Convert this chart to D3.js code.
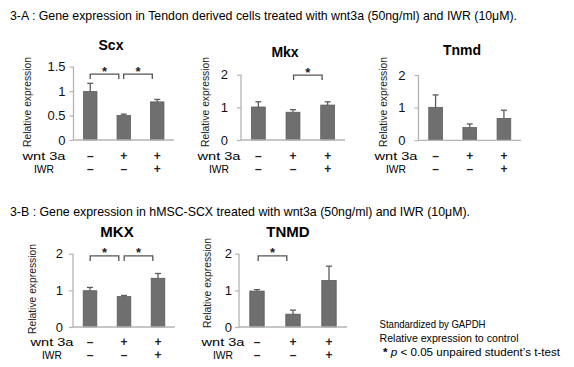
<!DOCTYPE html>
<html><head><meta charset="utf-8">
<script src="https://cdn.jsdelivr.net/npm/d3@7"></script>
<style>
html,body{margin:0;padding:0;background:#fff;}
svg{display:block;font-family:"Liberation Sans",Arial,sans-serif;}
</style></head>
<body><svg id="c" width="574" height="367"></svg>
<script>
// ---------------- DATA ----------------
const conditions = ["ctrl", "wnt3a", "wnt3a+IWR"];
const wntRow = ["\u2013", "+", "+"];
const iwrRow = ["\u2013", "\u2013", "+"];
const geneNames = ["Scx", "Mkx", "Tnmd", "MKX", "TNMD"];

const scxMean  = [0.99, 0.50, 0.78];
const scxErr   = [0.17, 0.03, 0.05];
const mkxMean  = [1.01, 0.85, 1.07];
const mkxErr   = [0.16, 0.08, 0.10];
const tnmdMean = [1.01, 0.39, 0.67];
const tnmdErr  = [0.38, 0.11, 0.25];
const hMKXMean = [0.99, 0.83, 1.33];
const hMKXErr  = [0.09, 0.03, 0.13];
const hTNMDMean = [0.98, 0.35, 1.27];
const hTNMDErr  = [0.04, 0.11, 0.39];

const scxTicks = [0, 0.5, 1, 1.5];
const scxTickLabels = ["0", "0.5", "1", "1.5"];
const stdTicks = [0, 1, 2];
const stdTickLabels = ["0", "1", "2"];

const scxSig  = [[0, 1], [1, 2]];
const mkxSig  = [[1, 2]];
const tnmdSig = [];
const hMKXSig = [[0, 1], [1, 2]];
const hTNMDSig = [[0, 1]];
const sigLevel = [1.35, 1.99, 0, 1.94, 1.94];

const titleA = "3-A : Gene expression in Tendon derived cells treated with wnt3a (50ng/ml) and IWR (10\u03bcM).";
const titleB = "3-B : Gene expression in hMSC-SCX treated with wnt3a (50ng/ml) and IWR (10\u03bcM).";
const yLabel = "Relative expression";
const noteLines = ["Standardized  by GAPDH", "Relative expression to control"];

// ---------------- LAYOUT ----------------
const layout = [
  {x0: 73.5, x1: 174, yb: 140, yt: 66.7, ymax: 1.5, ticks: scxTicks, tl: scxTickLabels, tx: 111, ty: 50, lx: 27, ly: 102, cx: 44, r1: 159.5, r2: 172.5, tp: 8},
  {x0: 241, x1: 345, yb: 140, yt: 74.7, ymax: 2, ticks: stdTicks, tl: stdTickLabels, tx: 285, ty: 57, lx: 205, ly: 102, cx: 219, r1: 159.5, r2: 172.5, tp: 13},
  {x0: 418.5, x1: 521, yb: 140.3, yt: 75, ymax: 2, ticks: stdTicks, tl: stdTickLabels, tx: 462, ty: 55, lx: 383, ly: 102, cx: 396, r1: 159.5, r2: 172.5, tp: 13},
  {x0: 73, x1: 175, yb: 327, yt: 253.7, ymax: 2, ticks: stdTicks, tl: stdTickLabels, tx: 117, ty: 237, lx: 32, ly: 289, cx: 52, r1: 345.5, r2: 358.5, tp: 10},
  {x0: 239, x1: 347, yb: 327, yt: 253.7, ymax: 2, ticks: stdTicks, tl: stdTickLabels, tx: 288, ty: 237, lx: 207, ly: 283, cx: 223, r1: 345.5, r2: 358.5, tp: 7}
];
const means = [scxMean, mkxMean, tnmdMean, hMKXMean, hTNMDMean];
const errs = [scxErr, mkxErr, tnmdErr, hMKXErr, hTNMDErr];
const sigs = [scxSig, mkxSig, tnmdSig, hMKXSig, hTNMDSig];
const titleSizes = [14, 14, 14, 15, 15];

const svg = d3.select("#c");
const axisCol = "#b4b4b4", barCol = "#6f6f6f", barEdge = "#5c5c5c";

svg.append("text").attr("x", 10).attr("y", 19.5).attr("font-size", 13)
  .attr("textLength", 507).attr("lengthAdjust", "spacingAndGlyphs").text(titleA);
svg.append("text").attr("x", 10).attr("y", 216).attr("font-size", 13)
  .attr("textLength", 460).attr("lengthAdjust", "spacingAndGlyphs").text(titleB);

geneNames.forEach((name, p) => {
  const L = layout[p];
  const g = svg.append("g");
  const x = d3.scaleBand().domain(conditions).range([L.x0, L.x1]).paddingInner(0.6).paddingOuter(0.3);
  const y = d3.scaleLinear().domain([0, L.ymax]).range([L.yb, L.yt]);

  // y axis
  const yAx = g.append("g").attr("transform", `translate(${L.x0},0)`)
    .call(d3.axisLeft(y).tickValues(L.ticks).tickFormat((d, i) => L.tl[i]).tickSize(4).tickPadding(L.tp - 4));
  yAx.select(".domain").attr("stroke", axisCol).attr("stroke-width", 1.3).attr("d", `M0,${L.yt}V${L.yb}`);
  yAx.selectAll(".tick line").attr("stroke", axisCol).attr("stroke-width", 1.2);
  yAx.selectAll(".tick text").attr("font-size", 13).attr("fill", "#111").attr("font-family", "Liberation Sans, Arial");

  // bars
  const data = conditions.map((c, i) => ({c, m: means[p][i], e: errs[p][i]}));
  g.selectAll("rect.bar").data(data).join("rect").attr("class", "bar")
    .attr("x", d => x(d.c)).attr("width", x.bandwidth())
    .attr("y", d => y(d.m)).attr("height", d => y(0) - y(d.m))
    .attr("fill", barCol).attr("stroke", barEdge).attr("stroke-width", 0.8);

  // error bars (upper)
  const eb = g.selectAll("g.eb").data(data).join("g").attr("class", "eb");
  eb.append("line").attr("x1", d => x(d.c) + x.bandwidth() / 2).attr("x2", d => x(d.c) + x.bandwidth() / 2)
    .attr("y1", d => y(d.m)).attr("y2", d => y(d.m + d.e)).attr("stroke", barEdge).attr("stroke-width", 1.3);
  eb.append("line").attr("x1", d => x(d.c) + x.bandwidth() / 2 - 3).attr("x2", d => x(d.c) + x.bandwidth() / 2 + 3)
    .attr("y1", d => y(d.m + d.e)).attr("y2", d => y(d.m + d.e)).attr("stroke", barEdge).attr("stroke-width", 1.3);

  // x axis line
  g.append("line").attr("x1", L.x0).attr("x2", L.x1).attr("y1", y(0)).attr("y2", y(0))
    .attr("stroke", axisCol).attr("stroke-width", 1.3);

  // significance brackets
  sigs[p].forEach(([a, b]) => {
    const ca = x(conditions[a]) + x.bandwidth() / 2, cb = x(conditions[b]) + x.bandwidth() / 2;
    const mid = (ca + cb) / 2 - 2.5, hw = 14.3;
    const by = y(sigLevel[p]);
    g.append("path").attr("d", `M${mid - hw},${by + 5}V${by}H${mid + hw}V${by + 5}`)
      .attr("fill", "none").attr("stroke", "#555").attr("stroke-width", 1.3);
    g.append("text").attr("x", mid).attr("y", by + 1.5).attr("text-anchor", "middle")
      .attr("font-size", 13).attr("font-weight", "bold").attr("fill", "#222").text("*");
  });

  // title
  g.append("text").attr("x", L.tx).attr("y", L.ty).attr("text-anchor", "middle")
    .attr("font-size", titleSizes[p]).attr("font-weight", "bold").text(name);

  // y label
  g.append("text").attr("transform", `translate(${L.lx + 3.5},${L.ly}) rotate(-90)`)
    .attr("text-anchor", "middle").attr("font-size", 10.3).attr("fill", "#222").text(yLabel);

  // condition rows
  g.append("text").attr("x", L.cx).attr("y", L.r1).attr("text-anchor", "middle").attr("font-size", 11.5)
    .attr("textLength", 43).attr("lengthAdjust", "spacingAndGlyphs").text("wnt 3a");
  g.append("text").attr("x", L.cx).attr("y", L.r2).attr("text-anchor", "middle").attr("font-size", 11.5)
    .attr("textLength", 20).attr("lengthAdjust", "spacingAndGlyphs").text("IWR");
  [wntRow, iwrRow].forEach((row, k) => {
    g.selectAll(null).data(row).join("text")
      .attr("x", (d, i) => x(conditions[i]) + x.bandwidth() / 2)
      .attr("y", k === 0 ? L.r1 : L.r2).attr("text-anchor", "middle")
      .attr("font-size", 12).attr("font-weight", "bold").attr("fill", "#222").text(d => d);
  });
});

// notes
svg.append("text").attr("x", 379.5).attr("y", 328).attr("font-size", 10.6)
  .attr("textLength", 106).attr("lengthAdjust", "spacingAndGlyphs").text(noteLines[0]);
svg.append("text").attr("x", 379.5).attr("y", 342.3).attr("font-size", 10.6)
  .attr("textLength", 139).attr("lengthAdjust", "spacingAndGlyphs").text(noteLines[1]);
const n3 = svg.append("text").attr("x", 383).attr("y", 355.5).attr("font-size", 10.6)
  .attr("textLength", 177).attr("lengthAdjust", "spacingAndGlyphs");
n3.append("tspan").attr("font-weight", "bold").text("* ");
n3.append("tspan").attr("font-style", "italic").text("p");
n3.append("tspan").text(" < 0.05  unpaired student\u2019s t-test");
</script></body></html>
